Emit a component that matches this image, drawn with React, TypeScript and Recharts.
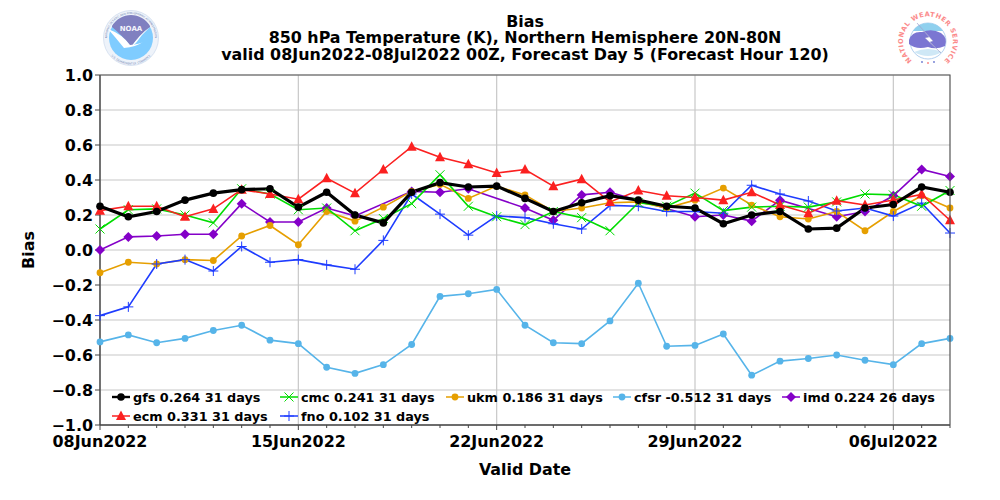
import React from "react";
import { CartesianGrid, Legend, Line, LineChart, XAxis, YAxis } from "recharts";

const dates = [
  "08Jun2022", "09Jun2022", "10Jun2022", "11Jun2022", "12Jun2022", "13Jun2022", "14Jun2022",
  "15Jun2022", "16Jun2022", "17Jun2022", "18Jun2022", "19Jun2022", "20Jun2022", "21Jun2022",
  "22Jun2022", "23Jun2022", "24Jun2022", "25Jun2022", "26Jun2022", "27Jun2022", "28Jun2022",
  "29Jun2022", "30Jun2022", "01Jul2022", "02Jul2022", "03Jul2022", "04Jul2022", "05Jul2022",
  "06Jul2022", "07Jul2022", "08Jul2022",
];
const labelledDates = ["08Jun2022", "15Jun2022", "22Jun2022", "29Jun2022", "06Jul2022"];
const yTicks = [-1, -0.8, -0.6, -0.4, -0.2, 0, 0.2, 0.4, 0.6, 0.8, 1];

const gfs = [0.25, 0.19, 0.22, 0.285, 0.325, 0.345, 0.35, 0.245, 0.33, 0.2, 0.155, 0.33, 0.385, 0.36, 0.365, 0.295, 0.22, 0.27, 0.31, 0.285, 0.25, 0.24, 0.15, 0.2, 0.22, 0.12, 0.125, 0.24, 0.26, 0.36, 0.33];
const ecm = [0.225, 0.25, 0.25, 0.19, 0.235, 0.345, 0.32, 0.29, 0.41, 0.325, 0.46, 0.59, 0.53, 0.49, 0.44, 0.46, 0.365, 0.405, 0.275, 0.34, 0.31, 0.3, 0.285, 0.33, 0.257, 0.21, 0.282, 0.257, 0.286, 0.318, 0.17];
const cmc = [0.12, 0.23, 0.235, 0.2, 0.155, 0.35, 0.32, 0.23, 0.24, 0.11, 0.18, 0.265, 0.43, 0.25, 0.19, 0.145, 0.22, 0.185, 0.11, 0.27, 0.25, 0.325, 0.225, 0.245, 0.25, 0.245, 0.275, 0.32, 0.315, 0.25, 0.34];
const fno = [-0.375, -0.325, -0.08, -0.055, -0.12, 0.02, -0.07, -0.055, -0.085, -0.11, 0.055, 0.32, 0.205, 0.085, 0.195, 0.185, 0.15, 0.12, 0.255, 0.25, 0.22, 0.22, 0.21, 0.37, 0.32, 0.28, 0.223, 0.24, 0.194, 0.268, 0.097];
const ukm = [-0.13, -0.07, -0.08, -0.055, -0.06, 0.08, 0.14, 0.03, 0.22, 0.165, 0.245, 0.335, 0.375, 0.295, 0.365, 0.315, 0.22, 0.24, 0.27, 0.275, 0.24, 0.285, 0.354, 0.257, 0.19, 0.177, 0.22, 0.11, 0.22, 0.31, 0.24];
const cfsr = [-0.525, -0.485, -0.53, -0.505, -0.46, -0.43, -0.515, -0.535, -0.67, -0.705, -0.655, -0.54, -0.265, -0.25, -0.225, -0.43, -0.53, -0.535, -0.405, -0.19, -0.55, -0.545, -0.48, -0.715, -0.635, -0.62, -0.6, -0.63, -0.655, -0.535, -0.505];
const imd = [0, 0.075, 0.08, 0.09, 0.09, 0.265, 0.16, 0.16, 0.24, 0.195, null, 0.335, 0.33, 0.35, null, 0.24, 0.17, 0.315, 0.33, null, null, 0.19, 0.2, 0.165, 0.285, null, 0.19, 0.22, 0.31, 0.46, 0.42];

const data = dates.map((date, i) => ({
  date, gfs: gfs[i], ecm: ecm[i], cmc: cmc[i], fno: fno[i], ukm: ukm[i], cfsr: cfsr[i], imd: imd[i],
}));

const FONT = "'DejaVu Sans', sans-serif";

// drawn back to front
const series = [
  { key: "imd", color: "#8400c8", width: 1.6, mark: "diamond" },
  { key: "cfsr", color: "#56b4e9", width: 1.6, mark: "circle" },
  { key: "ukm", color: "#e69f00", width: 1.6, mark: "circle" },
  { key: "fno", color: "#1e3cff", width: 1.6, mark: "plus" },
  { key: "cmc", color: "#00dc00", width: 1.6, mark: "x" },
  { key: "ecm", color: "#fb2020", width: 1.6, mark: "triangle" },
  { key: "gfs", color: "#000000", width: 3.2, mark: "dot" },
];

const legendRows = [
  { key: "gfs", label: "gfs 0.264 31 days", x: 112, y: 397 },
  { key: "cmc", label: "cmc 0.241 31 days", x: 280, y: 397 },
  { key: "ukm", label: "ukm 0.186 31 days", x: 446, y: 397 },
  { key: "cfsr", label: "cfsr -0.512 31 days", x: 613, y: 397 },
  { key: "imd", label: "imd 0.224 26 days", x: 782, y: 397 },
  { key: "ecm", label: "ecm 0.331 31 days", x: 112, y: 416 },
  { key: "fno", label: "fno 0.102 31 days", x: 280, y: 416 },
];

function Marker({ mark, color, cx, cy }: { mark: string; color: string; cx: number; cy: number }) {
  if (mark === "triangle") {
    return <path d={`M${cx} ${cy - 5.5}L${cx + 5} ${cy + 4}L${cx - 5} ${cy + 4}Z`} fill={color} />;
  }
  if (mark === "diamond") {
    return <path d={`M${cx} ${cy - 5}L${cx + 5} ${cy}L${cx} ${cy + 5}L${cx - 5} ${cy}Z`} fill={color} />;
  }
  if (mark === "x") {
    return <path d={`M${cx - 4.5} ${cy - 4.5}L${cx + 4.5} ${cy + 4.5}M${cx - 4.5} ${cy + 4.5}L${cx + 4.5} ${cy - 4.5}`} stroke={color} strokeWidth={1} fill="none" />;
  }
  if (mark === "plus") {
    return <path d={`M${cx - 5} ${cy}L${cx + 5} ${cy}M${cx} ${cy - 5}L${cx} ${cy + 5}`} stroke={color} strokeWidth={1} fill="none" />;
  }
  const r = mark === "dot" ? 3.8 : 3.4;
  return <circle cx={cx} cy={cy} r={r} fill={color} />;
}

function markerDot(mark: string, color: string) {
  return (props: any) => {
    if (props.value == null || props.cy == null) return <g key={props.index} />;
    return <Marker key={props.index} mark={mark} color={color} cx={props.cx} cy={props.cy} />;
  };
}

function DateTick({ x, payload }: any) {
  const major = labelledDates.includes(payload.value);
  return (
    <g>
      <line x1={x} x2={x} y1={425} y2={major ? 430 : 428} stroke="#444" strokeWidth={1} />
      {major && (
        <text x={x} y={447} textAnchor="middle" fontFamily={FONT} fontWeight="bold" fontSize={15.9} fill="#000">
          {payload.value}
        </text>
      )}
    </g>
  );
}

function KeyBox() {
  return (
    <svg width={1000} height={500} style={{ position: "absolute", left: 0, top: 0, overflow: "visible" }}>
      {legendRows.map((row) => {
        const s = series.find((item) => item.key === row.key)!;
        return (
          <g key={row.key}>
            <line x1={row.x} x2={row.x + 18} y1={row.y} y2={row.y} stroke={s.color} strokeWidth={s.key === "gfs" ? 2.4 : 1.5} />
            <Marker mark={s.mark} color={s.color} cx={row.x + 9} cy={row.y} />
            <text x={row.x + 21} y={row.y + 5} fontFamily={FONT} fontWeight="bold" fontSize={12.8} fill="#000">
              {row.label}
            </text>
          </g>
        );
      })}
    </svg>
  );
}

function Logos() {
  return (
    <>
      <g>
        <circle cx={131} cy={38} r={27.5} fill="#eef3fa" stroke="#c4d3ea" strokeWidth={0.6} />
        <path id="noaaTop" d="M107 38a24 24 0 0 1 48 0" fill="none" />
        <path id="noaaBottom" d="M104.500 38a26.500 26.500 0 0 0 53 0" fill="none" />
        <text fontFamily={FONT} fontSize={2.6} fill="#6c7fb0">
          <textPath href="#noaaTop" startOffset="50%" textAnchor="middle">NATIONAL OCEANIC AND ATMOSPHERIC ADMINISTRATION</textPath>
        </text>
        <text fontFamily={FONT} fontSize={2.6} fill="#6c7fb0">
          <textPath href="#noaaBottom" startOffset="50%" textAnchor="middle">U.S. DEPARTMENT OF COMMERCE</textPath>
        </text>
        <circle cx={131} cy={38} r={22} fill="#7fccff" />
        <path d="M112 26a22 22 0 0 1 38 0L150 27Q140 35 131 47Q122 35 112 27Z" fill="#8080c0" />
        <path d="M108 29Q122 34 130 45Q140 44 143 42Q136 47 124 48Q116 38 108 29Z" fill="#fff" />
        <path d="M150 27Q142 34 136 43L131 47Q140 34 150 27Z" fill="#fff" />
        <text x={131} y={31} textAnchor="middle" fontFamily={FONT} fontWeight="bold" fontSize={7} fill="#f4f4fb">NOAA</text>
      </g>
      <g>
        <path id="nwsRing" d="M928 66.500a25 25 0 1 1 0.01 0" fill="none" />
        <text fontFamily={FONT} fontWeight="bold" fontSize={6.6} fill="#fb8a8a">
          <textPath href="#nwsRing" startOffset="50%" textAnchor="middle" textLength={122}>NATIONAL WEATHER SERVICE</textPath>
        </text>
        <circle cx={928} cy={41} r={18} fill="#fff" stroke="#9fc4ea" strokeWidth={0.8} />
        <path d="M913 31a18 18 0 0 1 30 0Z" fill="#8fd0ee" />
        <path d="M909 40Q912 31 922 32Q932 28 941 33Q948 38 945 46Q936 50 928 47Q916 50 909 44Z" fill="#7b76d2" />
        <path d="M914 52Q928 46 942 52Q928 60 914 52Z" fill="#cfe8f6" />
        <path d="M917 23L929 37L925 38L941 53L930 42L933 41Z" fill="#fff" stroke="#9a9ac8" strokeWidth={0.4} />
        <circle cx={922} cy={62} r={0.9} fill="#6a78d0" />
        <circle cx={934} cy={62} r={0.9} fill="#6a78d0" />
        <circle cx={928} cy={63} r={1} fill="#fb8a8a" />
      </g>
    </>
  );
}

export default function App() {
  return (
    <div style={{ position: "absolute", left: 0, top: 0, width: 1000, height: 500, background: "#fff" }}>
      <LineChart width={1000} height={500} data={data} margin={{ top: 75, right: 50, bottom: 0, left: 0 }}>
        <CartesianGrid stroke="#c8c8c8" strokeWidth={1.2} verticalValues={labelledDates} horizontalValues={yTicks} />
        <XAxis
          dataKey="date"
          ticks={dates}
          interval={0}
          height={75}
          tick={<DateTick />}
          tickLine={false}
          axisLine={{ stroke: "#444", strokeWidth: 1.4 }}
        />
        <YAxis
          domain={[-1, 1]}
          ticks={yTicks}
          width={100}
          tickFormatter={(v: number) => (v < 0 ? "\u2212" : "") + Math.abs(v).toFixed(1)}
          tick={{ fontFamily: FONT, fontWeight: "bold", fontSize: 15.9, fill: "#000" }}
          tickSize={5}
          tickLine={{ stroke: "#444" }}
          axisLine={{ stroke: "#444", strokeWidth: 1.4 }}
        />
        <Legend content={<KeyBox />} height={0} wrapperStyle={{ left: 0, top: 0, width: 0, height: 0, pointerEvents: "none" }} />
        {series.map((s) => (
          <Line
            key={s.key}
            dataKey={s.key}
            stroke={s.color}
            strokeWidth={s.width}
            type="linear"
            connectNulls
            isAnimationActive={false}
            dot={markerDot(s.mark, s.color)}
            activeDot={false}
          />
        ))}
      </LineChart>
      <svg width={1000} height={500} style={{ position: "absolute", left: 0, top: 0, pointerEvents: "none" }}>
        <path d="M100 75H950V425" fill="none" stroke="#555" strokeWidth={1.2} />
        <g fontFamily={FONT} fontWeight="bold" fontSize={15.9} fill="#000" textAnchor="middle">
          <text x={525} y={27}>Bias</text>
          <text x={525} y={43}>850 hPa Temperature (K), Northern Hemisphere 20N-80N</text>
          <text x={525} y={60}>valid 08Jun2022-08Jul2022 00Z, Forecast Day 5 (Forecast Hour 120)</text>
          <text x={525} y={475}>Valid Date</text>
          <text transform="translate(34 250) rotate(-90)">Bias</text>
        </g>
        <Logos />
      </svg>
    </div>
  );
}
